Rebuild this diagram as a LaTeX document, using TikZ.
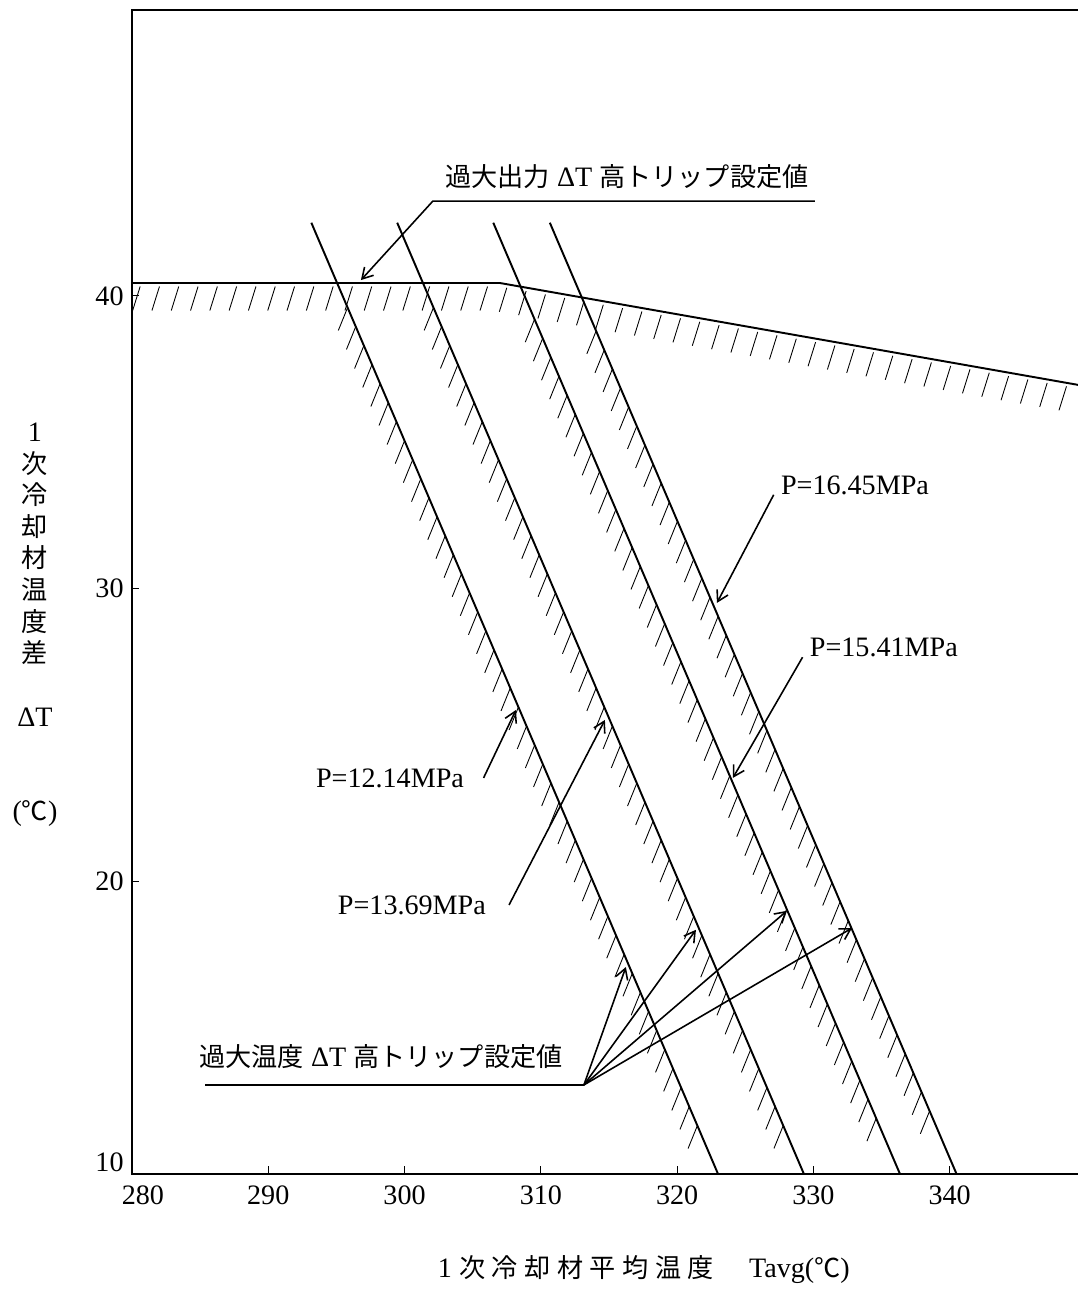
\documentclass[tikz,border=0pt]{standalone}
\usepackage{fontspec}
\setmainfont{Liberation Serif}
\newfontfamily\jfont[Scale=0.93]{Noto Sans CJK JP}
\newcommand{\jp}[1]{{\jfont #1}}
\usetikzlibrary{arrows.meta}

\begin{document}
\begin{tikzpicture}[x=0.2726cm, y=0.5854cm,
	axis/.style={line width=1.2pt},
	limit/.style={line width=1.1pt},
	hatch/.style={line width=0.5pt},
	plain/.style={line width=0.9pt},
	leader/.style={line width=0.9pt, arrows={-{Straight Barb[length=6pt,width=7pt]}}},
	lbl/.style={inner sep=0pt, font=\fontsize{16pt}{19pt}\selectfont}]

	\useasboundingbox (270.32,6.0) rectangle (349.41,50.11);

	% frame and ticks
	\draw [axis] (349.41,49.77) -- (280,49.77) -- (280,10) -- (349.41,10);
	\foreach \tk in {290,300,...,340} {
		\draw [hatch] (\tk,10) -- (\tk,10.27);
		\node [lbl] (xt\tk) at (\tk,9.28) {\tk};
	}
	\node [lbl] (xt280) at (280.8,9.28) {280};
	\foreach \tk in {20,30,40} {
		\draw [hatch] (280,\tk) -- (280.5,\tk);
		\node [lbl, anchor=east] (yt\tk) at (279.41,\tk) {\tk};
	}
	\node [lbl, anchor=east] (yt10) at (279.41,10.41) {10};

	% overpower limit with hatching
	\draw [limit] (280,40.44) -- (307,40.44) -- (349.41,36.96);
	\foreach \k in {0,...,48} {
		\pgfmathsetmacro{\hx}{280.6+1.416*\k}
		\pgfmathsetmacro{\hy}{min(40.44,40.44-0.08205*(\hx-307))-0.12}
		\draw [hatch] (\hx,\hy) -- ++(-0.55,-0.82);
	}

	% overtemperature lines with hatching
	\foreach \bx/\st/\nh in {323.0/39.6/43, 329.3/39.6/43, 336.35/39.2/42, 340.5/38.8/41} {
		\draw [limit] ({\bx-29.84},42.5) -- (\bx,10);
		\foreach \k in {0,...,\nh} {
			\pgfmathsetmacro{\hy}{\st-0.65*\k}
			\pgfmathsetmacro{\hx}{\bx-0.9182*(\hy-10)}
			\draw [hatch] (\hx,\hy) -- ++(-0.68,-0.78);
		}
	}

	% labels
	\node [lbl] (ovp) at (316.32,44.06) {\jp{過大出力} ΔT \jp{高トリップ設定値}};
	\coordinate (ovpEnd) at (330.1,43.24);
	\coordinate (ovpBend) at (302.08,43.24);
	\coordinate (ovpTip) at (296.8,40.54);
	\draw [leader] (ovpEnd) -- (ovpBend) -- (ovpTip);

	\node [lbl] (p16) at (333.05,33.54) {P=16.45MPa};
	\coordinate (p16tip) at (322.92,29.51);
	\draw [leader] ([xshift=-4pt]p16.south west) -- (p16tip);

	\node [lbl] (p15) at (335.17,27.99) {P=15.41MPa};
	\coordinate (p15tip) at (324.09,23.53);
	\draw [leader] ([xshift=-4pt]p15.south west) -- (p15tip);

	\node [lbl] (p12) at (298.93,23.53) {P=12.14MPa};
	\coordinate (p12tip) at (308.17,25.85);
	\draw [leader] ([xshift=11pt]p12.east) -- (p12tip);

	\node [lbl] (p13) at (300.54,19.19) {P=13.69MPa};
	\coordinate (p13tip) at (314.70,25.51);
	\draw [leader] ([xshift=13pt]p13.east) -- (p13tip);

	\node [lbl] (otp) at (298.27,14.0) {\jp{過大温度} ΔT \jp{高トリップ設定値}};
	\coordinate (otpStart) at (285.36,13.04);
	\coordinate (otpFork) at (313.16,13.04);
	\coordinate (otpTipA) at (316.24,17.07);
	\coordinate (otpTipB) at (321.38,18.34);
	\coordinate (otpTipC) at (328.06,18.99);
	\coordinate (otpTipD) at (332.83,18.40);
	\draw [plain] (otpStart) -- (otpFork);
	\foreach \tp in {A,B,C,D}
		\draw [leader] (otpFork) -- (otpTip\tp);

	% axis titles
	\node [lbl] (xtitle) at (317.56,6.72) {1 {\jfont\addfontfeature{LetterSpace=25}次冷却材平均温度}\quad\ Tavg(\jp{℃})};
	\node [lbl, align=center, font=\fontsize{16pt}{18pt}\selectfont] (ytitle) at (272.88,28.76)
		{1\\\jp{次}\\\jp{冷}\\\jp{却}\\\jp{材}\\\jp{温}\\\jp{度}\\\jp{差}\\[18pt]ΔT\\[36pt](\jp{℃})};

\end{tikzpicture}
\end{document}
